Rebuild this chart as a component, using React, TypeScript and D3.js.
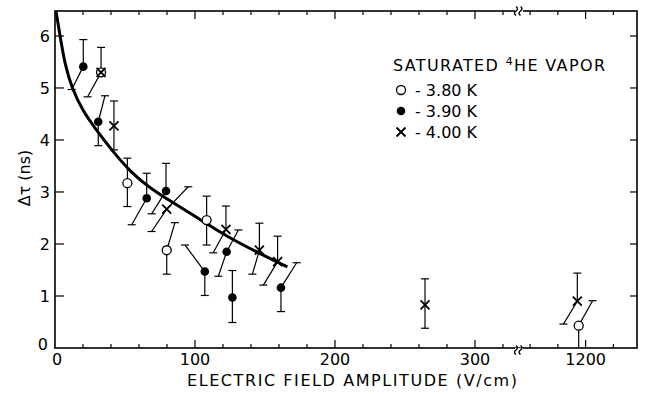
import * as d3 from "d3";

// Δτ vs field amplitude. hiX/loX: where the slanted error bar ends.
type Pt = { x: number; y: number; hiX?: number; hi?: number; loX?: number; lo?: number };

const openPts: Pt[] = [
  { x: 32.9, y: 5.3, hiX: 32.9, hi: 5.78, loX: 23.3, lo: 4.83 },
  { x: 51.7, y: 3.17, hiX: 51.7, hi: 3.65, loX: 51.7, lo: 2.72 },
  { x: 79.8, y: 1.88, hiX: 85.7, hi: 2.41, loX: 79.8, lo: 1.42 },
  { x: 108.3, y: 2.46, hiX: 108.3, hi: 2.92, loX: 108.3, lo: 1.98 },
  { x: 1195, y: 0.43, hiX: 1205, hi: 0.91, loX: 1195, lo: 0 },
];

const filledPts: Pt[] = [
  { x: 20.2, y: 5.41, hiX: 20.2, hi: 5.93, loX: 11.9, lo: 4.97 },
  { x: 30.9, y: 4.35, hiX: 35.7, hi: 4.85, loX: 30.9, lo: 3.89 },
  { x: 65.5, y: 2.88, hiX: 65.5, hi: 3.36, loX: 54.8, lo: 2.37 },
  { x: 79.3, y: 3.02, hiX: 79.3, hi: 3.55, loX: 69, lo: 2.58 },
  { x: 107, y: 1.47, hiX: 92.9, hi: 1.98, loX: 107, lo: 1.01 },
  { x: 122.6, y: 1.85, hiX: 131, hi: 2.27, loX: 116.7, lo: 1.38 },
  { x: 126.7, y: 0.97, hiX: 126.7, hi: 1.49, loX: 126.7, lo: 0.49 },
  { x: 161.4, y: 1.16, hiX: 172.6, hi: 1.64, loX: 161.4, lo: 0.7 },
];

const crossPts: Pt[] = [
  { x: 32.9, y: 5.3 },
  { x: 42.1, y: 4.27, hiX: 42.1, hi: 4.75, loX: 42.1, lo: 3.81 },
  { x: 79.8, y: 2.67, hiX: 95.2, hi: 3.1, loX: 69, lo: 2.24 },
  { x: 122.1, y: 2.28, hiX: 122.1, hi: 2.73, loX: 113, lo: 1.83 },
  { x: 146, y: 1.88, hiX: 146, hi: 2.4, loX: 141, lo: 1.42 },
  { x: 159, y: 1.66, hiX: 159, hi: 2.15, loX: 148.8, lo: 1.21 },
  { x: 264.3, y: 0.83, hiX: 264.3, hi: 1.33, loX: 264.3, lo: 0.38 },
  { x: 1194, y: 0.9, hiX: 1194, hi: 1.44, loX: 1184, lo: 0.46 },
];

// hand-drawn fit curve
const fitCurve: [number, number][] = [
  [0.7, 6.48], [3.6, 6.0], [7.1, 5.45], [12, 5.0], [20, 4.55], [28, 4.25],
  [40, 3.82], [54, 3.38], [68, 3.07], [84, 2.8], [96, 2.6], [106, 2.43],
  [123, 2.14], [146, 1.82], [166, 1.56],
];

const xTickLabels = [0, 100, 200, 300, 1200];
const xMinorTicks = [20, 40, 60, 80, 120, 140, 160, 180, 220, 240, 260, 280, 320, 1160, 1180, 1220];
const yTicks = [1, 2, 3, 4, 5, 6];
const legendItems = ["- 3.80 K", "- 3.90 K", "- 4.00 K"];

const W = 646;
const H = 394;
const left = 55, right = 637, top = 11, bottom = 348;
const breakX = 518;
const font = "DejaVu Sans, sans-serif";

// broken axis: 0..330 then 1152..1237
const x = d3.scaleLinear().domain([0, 330, 1152, 1237]).range([left, breakX - 1, breakX + 1, right]);
const y = d3.scaleLinear().domain([0, 6.48]).range([bottom, top]);

function Marker({ kind, cx, cy }: { kind: string; cx: number; cy: number }) {
  if (kind === "open") return <circle cx={cx} cy={cy} r={4.5} fill="#fff" stroke="#000" strokeWidth={1.3} />;
  if (kind === "filled") return <circle cx={cx} cy={cy} r={4.3} fill="#000" />;
  const s = 4.5;
  return (
    <path d={`M${cx - s},${cy - s}L${cx + s},${cy + s}M${cx - s},${cy + s}L${cx + s},${cy - s}`} stroke="#000" strokeWidth={1.8} />
  );
}

function Bars({ p }: { p: Pt }) {
  if (p.hi === undefined) return null;
  const px = x(p.x), py = y(p.y);
  const ends = [[x(p.hiX!), y(p.hi!)], [x(p.loX!), y(p.lo!)]];
  return (
    <g stroke="#000" strokeWidth={1.2} fill="none">
      {ends.map(([ex, ey], i) => (
        <g key={i}>
          <line x1={px} y1={py} x2={ex} y2={ey} />
          {ey < bottom && <line x1={ex - 4} x2={ex + 4} y1={ey} y2={ey} />}
        </g>
      ))}
    </g>
  );
}

function BreakMark({ bx, by }: { bx: number; by: number }) {
  const s = (ox: number) => `M${ox - 1},${by - 4.5} q3,2.2 0,4.5 q-3,2.2 0,4.5`;
  return (
    <g>
      <rect x={bx - 4} y={by - 2} width={8} height={4} fill="#fff" />
      <path d={s(bx - 2)} stroke="#000" strokeWidth={1.4} fill="none" />
      <path d={s(bx + 2.5)} stroke="#000" strokeWidth={1.4} fill="none" />
    </g>
  );
}

export default function App() {
  const line = d3.line<[number, number]>().x(d => x(d[0])).y(d => y(d[1])).curve(d3.curveBasis);
  const series: [string, Pt[]][] = [["open", openPts], ["filled", filledPts], ["cross", crossPts]];

  return (
    <svg width={W} height={H} style={{ position: "absolute", left: 0, top: 0, background: "#fff" }} fontFamily={font}>
      {/* frame */}
      <rect x={left} y={top} width={right - left} height={bottom - top} fill="none" stroke="#000" strokeWidth={1.6} />

      {/* x ticks, bottom and top, pointing inward */}
      {xMinorTicks.map(v => (
        <g key={"m" + v} stroke="#000" strokeWidth={1.2}>
          <line x1={x(v)} x2={x(v)} y1={bottom} y2={bottom - 4} />
          <line x1={x(v)} x2={x(v)} y1={top} y2={top + 4} />
        </g>
      ))}
      {xTickLabels.map(v => (
        <g key={"M" + v}>
          {v > 0 && (
            <g stroke="#000" strokeWidth={1.2}>
              <line x1={x(v)} x2={x(v)} y1={bottom} y2={bottom - 8} />
              <line x1={x(v)} x2={x(v)} y1={top} y2={top + 8} />
            </g>
          )}
          <text x={x(v) + (v === 0 ? 2 : 0)} y={365} textAnchor="middle" fontSize={16}>{v}</text>
        </g>
      ))}

      {/* y ticks, both sides */}
      {yTicks.map(v => (
        <g key={"y" + v}>
          <line x1={left} x2={left + 9} y1={y(v)} y2={y(v)} stroke="#000" strokeWidth={1.2} />
          <line x1={right} x2={right - 7} y1={y(v)} y2={y(v)} stroke="#000" strokeWidth={1.2} />
          <text x={50} y={y(v) + 6} textAnchor="end" fontSize={16}>{v}</text>
        </g>
      ))}
      <text x={48} y={y(0) + 2} textAnchor="end" fontSize={16}>0</text>

      <BreakMark bx={breakX + 1} by={bottom + 2} />
      <BreakMark bx={breakX + 1} by={top} />

      {/* fit */}
      <path d={line(fitCurve) ?? ""} fill="none" stroke="#000" strokeWidth={3} />

      {/* error bars then markers */}
      {series.map(([k, pts]) => pts.map((p, i) => <Bars key={k + "b" + i} p={p} />))}
      {series.map(([k, pts]) => pts.map((p, i) => <Marker key={k + i} kind={k} cx={x(p.x)} cy={y(p.y)} />))}

      {/* axis titles */}
      <text x={187} y={386} fontSize={16} textLength={330} lengthAdjust="spacing">ELECTRIC FIELD AMPLITUDE (V/cm)</text>
      <text transform="translate(30,178) rotate(-90)" textAnchor="middle" fontSize={16}>Δτ (ns)</text>

      {/* legend */}
      <text x={393} y={71} fontSize={16} textLength={212} lengthAdjust="spacing">
        SATURATED <tspan fontSize={11} dy={-6}>4</tspan><tspan dy={6}>HE VAPOR</tspan>
      </text>
      {legendItems.map((t, i) => (
        <g key={t}>
          <Marker kind={["open", "filled", "cross"][i]} cx={401} cy={90 + i * 21} />
          <text x={415} y={96 + i * 21} fontSize={16}>{t}</text>
        </g>
      ))}
    </svg>
  );
}
